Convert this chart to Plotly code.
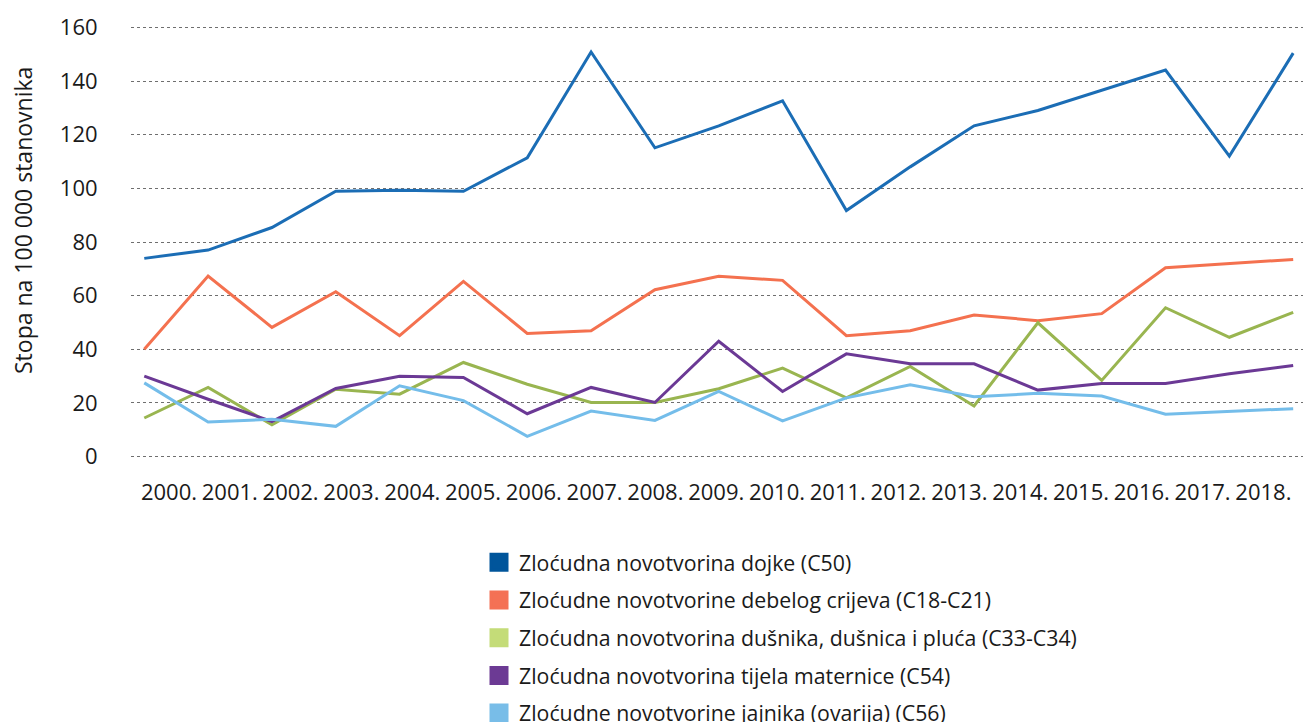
import plotly.graph_objects as go

years = ["2000.", "2001.", "2002.", "2003.", "2004.", "2005.", "2006.", "2007.", "2008.", "2009.",
         "2010.", "2011.", "2012.", "2013.", "2014.", "2015.", "2016.", "2017.", "2018."]

series_names = [
    "Zloćudna novotvorina dojke (C50)",
    "Zloćudne novotvorine debelog crijeva (C18-C21)",
    "Zloćudna novotvorina dušnika, dušnica i pluća (C33-C34)",
    "Zloćudna novotvorina tijela maternice (C54)",
    "Zloćudne novotvorine jajnika (ovarija) (C56)",
]

dojka = [73.9, 77.0, 85.4, 98.9, 99.3, 98.9, 111.4, 150.8, 115.1, 123.3,
         132.6, 91.7, 108.0, 123.3, 129.0, 136.6, 144.1, 112.0, 150.4]
debelo_crijevo = [40.0, 67.3, 48.2, 61.5, 45.1, 65.3, 45.9, 46.9, 62.2, 67.2,
                  65.7, 45.1, 46.9, 52.8, 50.7, 53.3, 70.4, 71.9, 73.5]
pluca = [14.4, 25.8, 11.9, 25.1, 23.3, 35.1, 27.0, 20.2, 20.2, 25.3,
         33.0, 21.9, 33.6, 18.9, 49.9, 28.4, 55.5, 44.5, 53.8]
maternica = [30.0, 21.4, 13.1, 25.4, 30.0, 29.5, 16.0, 25.8, 20.2, 43.0,
             24.3, 38.3, 34.6, 34.6, 24.8, 27.3, 27.3, 30.9, 34.0]
jajnik = [27.5, 12.9, 13.9, 11.3, 26.4, 20.9, 7.6, 17.0, 13.5, 24.3,
          13.3, 21.9, 26.8, 22.3, 23.6, 22.6, 15.8, 16.8, 17.9]

y_ticks = [0, 20, 40, 60, 80, 100, 120, 140, 160]

series_values = [dojka, debelo_crijevo, pluca, maternica, jajnik]
line_colors = ["#1b6db5", "#f4714f", "#99b550", "#6b3995", "#74bdea"]
legend_colors = ["#00559b", "#f47155", "#c4dc78", "#6c3a94", "#78bde8"]

FONT = "Open Sans"
x_idx = list(range(len(years)))

# page body has an 8px default margin; figure is sized to fit the window exactly
W, H = 1303, 714
L, T, B = 123, 18, 264
PH = H - T - B

fig = go.Figure()

for name, vals, col in zip(series_names, series_values, line_colors):
    fig.add_trace(go.Scatter(
        x=x_idx, y=vals, mode="lines", name=name,
        line=dict(color=col, width=3), showlegend=False,
        hoverinfo="x+y+name",
    ))

for i, (name, col) in enumerate(zip(series_names, legend_colors)):
    fig.add_trace(go.Scatter(
        x=[None], y=[None], mode="markers", name=name,
        marker=dict(symbol="square", size=16, color=col, line=dict(color=col, width=3)),
        showlegend=True, legendgroup=f"g{i}", xaxis="x2",
    ))

fig.update_layout(
    width=W, height=H,
    margin=dict(l=L, r=0, t=T, b=B, autoexpand=False),
    paper_bgcolor="white", plot_bgcolor="white",
    font=dict(family=FONT, color="#1a1a1a", size=20),
    xaxis=dict(
        range=[-0.208, 18.279], showticklabels=False, showgrid=False,
        zeroline=False, showline=False, ticks="", automargin=False,
    ),
    xaxis2=dict(
        overlaying="x", anchor="y", side="bottom",
        range=[-0.625, 18.783], tickmode="array", tickvals=x_idx, ticktext=years,
        showgrid=False, zeroline=False, showline=False,
        ticks="outside", ticklen=15, tickcolor="rgba(0,0,0,0)", automargin=False,
        tickfont=dict(size=22, family=FONT, color="#1a1a1a"),
    ),
    yaxis=dict(
        range=[-0.5, 160.5], tickmode="array", tickvals=y_ticks,
        showgrid=True, gridcolor="#6f6f6f", gridwidth=1, griddash="dot",
        zeroline=False, showline=False, ticks="outside", ticklen=28,
        tickcolor="rgba(0,0,0,0)", automargin=False,
        tickfont=dict(size=22, family=FONT, color="#1a1a1a"),
    ),
    legend=dict(
        xref="container", yref="container",
        x=471 / W, xanchor="left",
        y=1 - 534 / H, yanchor="top",
        font=dict(size=21.3, family=FONT, color="#1a1a1a"),
        traceorder="grouped", tracegroupgap=7,
        bgcolor="rgba(0,0,0,0)",
    ),
    annotations=[dict(
        text="Stopa na 100 000 stanovnika", textangle=-90,
        xref="paper", yref="paper",
        x=(15 - L) / (W - L), y=1 - (213 - T) / PH,
        xanchor="center", yanchor="middle", showarrow=False,
        font=dict(size=23, family=FONT, color="#1a1a1a"),
    )],
)

fig.write_html("out.html")
